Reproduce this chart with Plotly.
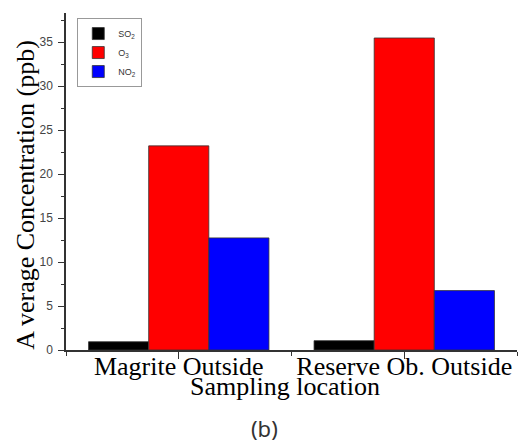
import plotly.graph_objects as go

locations = ["Magrite Outside", "Reserve Ob. Outside"]
so2 = [0.94, 1.06]
o3 = [23.2, 35.46]
no2 = [12.74, 6.75]

series = [
    ("SO<sub>2</sub>", so2, "#000000"),
    ("O<sub>3</sub>", o3, "#ff0000"),
    ("NO<sub>2</sub>", no2, "#0000ff"),
]

xpos = list(range(len(locations)))
serif = "Liberation Serif, Times New Roman, serif"

fig = go.Figure()
for name, vals, col in series:
    fig.add_trace(go.Bar(
        x=xpos, y=vals, name=name,
        marker=dict(color=col, line=dict(color="#333333", width=0.8)),
    ))

fig.update_layout(
    width=520, height=435,
    margin=dict(l=58, r=11, t=5, b=93),
    paper_bgcolor="white", plot_bgcolor="white",
    barmode="group", bargap=0.2, bargroupgap=0,
    showlegend=True,
    legend=dict(
        x=0.025, y=0.985, xanchor="left", yanchor="top",
        bgcolor="white", bordercolor="#999999", borderwidth=1,
        font=dict(family="Liberation Sans, Arial", size=9, color="#333333"),
        tracegroupgap=0, itemwidth=30,
    ),
    xaxis=dict(
        range=[-0.5, 1.5], automargin=False,
        tickmode="array", tickvals=xpos, ticktext=locations,
        ticks="outside", ticklen=7, tickwidth=1.2, tickcolor="#333333",
        ticklabelstandoff=-15,
        minor=dict(tickmode="linear", tick0=-0.5, dtick=0.5, ticks="outside", ticklen=4, tickcolor="#333333"),
        showline=True, linecolor="#333333", linewidth=1.5,
        showgrid=False, zeroline=False,
        tickfont=dict(family=serif, size=26, color="#000000"),
    ),
    yaxis=dict(
        range=[0, 38.3], automargin=False,
        tickmode="linear", tick0=0, dtick=5,
        ticks="outside", ticklen=6, tickwidth=1.2, tickcolor="#333333",
        ticklabelstandoff=3,
        minor=dict(tickmode="linear", tick0=0, dtick=2.5, ticks="outside", ticklen=3, tickcolor="#333333"),
        showline=True, linecolor="#333333", linewidth=1.5,
        showgrid=False, zeroline=False,
        tickfont=dict(family="Liberation Sans, Arial", size=12, color="#444444"),
    ),
    annotations=[
        dict(text="A verage Concentration (ppb)", xref="paper", yref="paper",
             x=-0.089, y=0.46, textangle=-90,
             xanchor="center", yanchor="middle", showarrow=False,
             font=dict(family=serif, size=26, color="#000000")),
        dict(text="Sampling location", xref="paper", yref="paper", x=0.486, y=-0.107,
             xanchor="center", yanchor="middle", showarrow=False,
             font=dict(family=serif, size=26, color="#000000")),
        dict(text="(b)", xref="paper", yref="paper", x=0.441, y=-0.232,
             xanchor="center", yanchor="middle", showarrow=False,
             font=dict(family="Noto Sans", size=22, color="#333333")),
    ],
)

fig.write_html("out.html")
